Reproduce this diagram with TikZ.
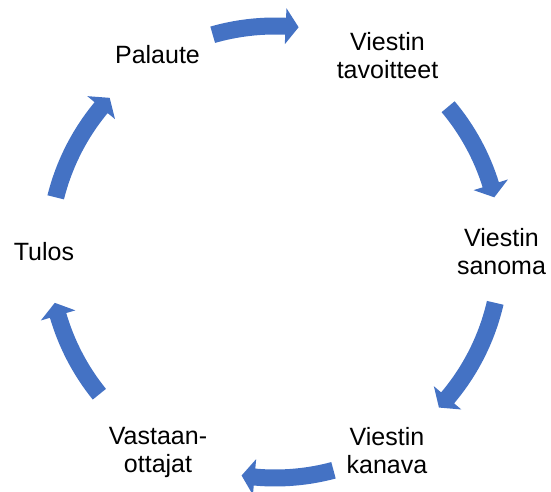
\documentclass[tikz,border=0pt]{standalone}
\usepackage{fontspec}
\setmainfont{Liberation Sans}
\definecolor{cycblue}{HTML}{4472C4}
\newcommand\cycarrow[2]{% tail angle, tip angle (clockwise arrow)
  \pgfmathsetmacro\hb{#2+3.3}
  \fill[cycblue] (#1:234.5pt) arc[start angle=#1, end angle=\hb, radius=234.5pt]
    -- (\hb:244pt) -- (#2:226pt) -- (\hb:208pt) -- (\hb:217.5pt)
    arc[start angle=\hb, end angle=#1, radius=217.5pt] -- cycle;
}
\begin{document}
\begin{tikzpicture}[x=1pt,y=1pt,
  lbl/.style={font=\fontsize{25}{28}\selectfont, align=center, inner sep=0pt, anchor=north}]
\useasboundingbox (0,0) rectangle (551,492);
\coordinate (C) at (275,240);
\node[lbl] (palaute) at (157.5,447) {Palaute};
\node[lbl] (tavoitteet) at (387.5,460) {Viestin\\tavoitteet};
\node[lbl] (sanoma) at (501.5,264) {Viestin\\sanoma};
\node[lbl] (kanava) at (387,65) {Viestin\\kanava};
\node[lbl] (vastaan) at (158,65) {Vastaan-\\ottajat};
\node[lbl] (tulos) at (44,250) {Tulos};
\begin{scope}[shift={(C)}]
  \cycarrow{106}{84}
  \cycarrow{40}{14}
  \cycarrow{-13}{-43.5}
  \cycarrow{-75}{-98.5}
  \cycarrow{219}{193}
  \cycarrow{166}{137}
\end{scope}
\end{tikzpicture}
\end{document}
